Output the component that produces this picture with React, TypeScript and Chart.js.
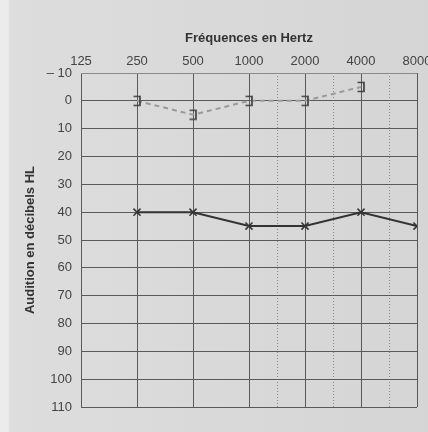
import React, { useEffect, useRef } from "react";
import { Chart, registerables } from "chart.js";

Chart.register(...registerables);

const frequencies = [125, 250, 500, 1000, 2000, 4000, 8000];
const boneFreqs = [250, 500, 1000, 2000, 4000];
const boneValues = [0, 5, 0, 0, -5];
const airFreqs = [250, 500, 1000, 2000, 4000, 8000];
const airValues = [40, 40, 45, 45, 40, 45];
const yTickLabels: Record<number, string> = { [-10]: "– 10" };

const pos = (f: number) => Math.log2(f / 125);

export default function App() {
  const ref = useRef<HTMLCanvasElement>(null);
  useEffect(() => {
    if (!ref.current) return;
    const br = document.createElement("canvas");
    br.width = 10;
    br.height = 12;
    const bc = br.getContext("2d")!;
    bc.strokeStyle = "#444";
    bc.lineWidth = 1.7;
    bc.beginPath();
    bc.moveTo(1.5, 1.5);
    bc.lineTo(8, 1.5);
    bc.lineTo(8, 10.5);
    bc.lineTo(1.5, 10.5);
    bc.stroke();

    const font = { family: "'Liberation Sans', Arial, sans-serif", size: 13 };
    const chart = new Chart(ref.current, {
      type: "scatter",
      data: {
        datasets: [
          {
            label: "bone",
            data: boneFreqs.map((f, i) => ({ x: pos(f), y: boneValues[i] })),
            showLine: true,
            borderColor: "#9a9a9a",
            borderWidth: 2,
            borderDash: [5, 4],
            pointStyle: br as any,
            pointRadius: 5,
          },
          {
            label: "air",
            data: airFreqs.map((f, i) => ({ x: pos(f), y: airValues[i] })),
            showLine: true,
            borderColor: "#333",
            borderWidth: 2,
            pointStyle: "crossRot",
            pointRadius: 5,
            pointBorderWidth: 1.5,
            pointBorderColor: "#333",
          },
        ],
      },
      options: {
        animation: false,
        responsive: false,
        layout: { padding: { left: 0, right: 23, top: 0, bottom: 25 } },
        plugins: { legend: { display: false }, tooltip: { enabled: false } },
        scales: {
          x: {
            type: "linear",
            position: "top",
            min: 0,
            max: 6,
            ticks: {
              stepSize: 0.5,
              autoSkip: false,
              maxRotation: 0,
              minRotation: 0,
              padding: 4,
              color: "#444",
              font,
              callback: (v: any) =>
                Number.isInteger(v) ? String(frequencies[v]) : "",
            },
            grid: {
              drawTicks: false,
              lineWidth: 1,
              color: (ctx: any) => {
                const v = ctx.tick ? ctx.tick.value : 0;
                if (Number.isInteger(v)) return "#5a5a5a";
                if (v >= 3.5) return "#8a8a8a";
                return "rgba(0,0,0,0)";
              },
            },
            border: {
              display: false,
              dash: (ctx: any) =>
                ctx.tick && !Number.isInteger(ctx.tick.value) ? [1, 2] : [],
            },
            title: {
              display: true,
              text: "Fréquences en Hertz",
              color: "#333",
              font: { ...font, weight: "bold" },
              padding: { top: 31, bottom: 0 },
            },
            afterFit: (s: any) => {
              s.height = 73;
              s.paddingLeft = 0;
              s.paddingRight = 0;
            },
          },
          y: {
            type: "linear",
            reverse: true,
            min: -10,
            max: 110,
            ticks: {
              stepSize: 10,
              padding: 9,
              color: "#444",
              font,
              callback: (v: any) => yTickLabels[v] ?? String(v),
            },
            grid: {
              drawTicks: false,
              lineWidth: 1,
              color: (ctx: any) =>
                ctx.tick && ctx.tick.value === -10 ? "#8a8a8a" : "#5a5a5a",
            },
            border: { display: false },
            title: {
              display: true,
              text: "Audition en décibels HL",
              color: "#333",
              font: { ...font, weight: "bold" },
              padding: { top: 23, bottom: 0 },
            },
            afterFit: (s: any) => {
              s.width = 81;
              s.paddingTop = 0;
              s.paddingBottom = 0;
            },
          },
        },
      },
    });
    return () => chart.destroy();
  }, []);
  return (
    <div
      style={{
        position: "fixed",
        left: 0,
        top: 0,
        width: 428,
        height: 432,
        overflow: "hidden",
        background:
          "linear-gradient(to right, #ececec 0px, #ececec 8px, #dddddd 10px, #d5d5d5 100%)",
      }}
    >
      <canvas ref={ref} width={440} height={432} style={{ width: 440, height: 432 }} />
    </div>
  );
}
